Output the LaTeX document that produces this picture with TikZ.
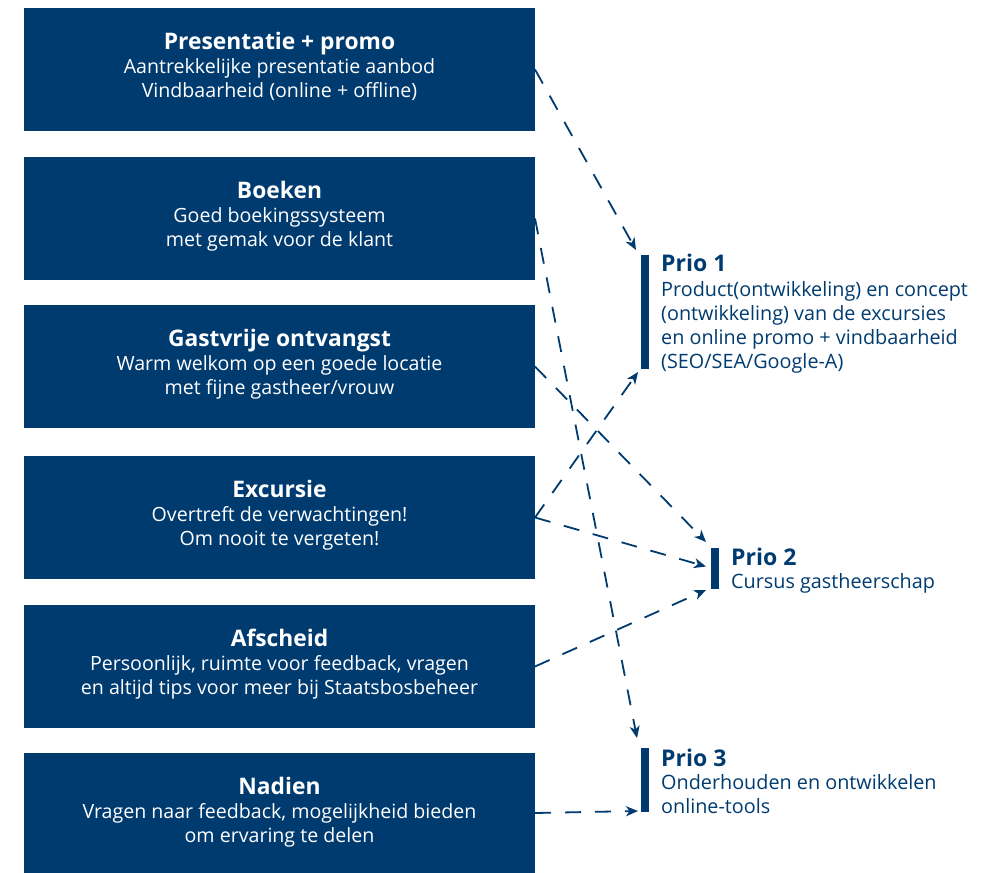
\documentclass[tikz,border=0pt]{standalone}
\usepackage{fontspec}
\setmainfont{Open Sans}
\usetikzlibrary{arrows.meta,calc}
\definecolor{navy}{RGB}{0,59,112}
\newcommand\Tstr{\rule{0pt}{17pt}}
\begin{document}
\begin{tikzpicture}[x=1pt,y=-1pt,
  box/.style={fill=navy,minimum width=511pt,minimum height=123pt,anchor=north west,inner sep=0pt,outer sep=0pt},
  btitle/.style={text=white,anchor=base,inner sep=0pt,font=\bfseries\fontsize{22.8}{24}\selectfont},
  bbody/.style={text=white,anchor=north,align=center,inner sep=0pt,font=\fontsize{19.6}{24}\selectfont},
  bar/.style={fill=navy,inner sep=0pt,outer sep=0pt,anchor=north west,minimum width=8pt},
  ptitle/.style={text=navy,anchor=base west,inner sep=0pt,font=\bfseries\fontsize{23}{24}\selectfont},
  pbody/.style={text=navy,anchor=north west,align=left,inner sep=0pt,font=\fontsize{19.8}{24}\selectfont},
  arr/.style={draw=navy,line width=1.8pt,dash pattern=on 16pt off 14pt,-{Stealth[length=12pt,width=10pt,inset=3.5pt]}}
]
\useasboundingbox (0,0) rectangle (1002,873);
% boxes
\node[box] (b1) at (24,8) {};
\node[box] (b2) at (24,157) {};
\node[box] (b3) at (24,305) {};
\node[box] (b4) at (24,456) {};
\node[box] (b5) at (24,605) {};
\node[box,minimum height=120pt] (b6) at (24,753) {};
% box texts
\node[btitle] (t1) at ($(b1.north)+(0,41.3)$) {Presentatie + promo};
\node[bbody] (s1) at ($(b1.north)+(0,48.3)$) {\Tstr Aantrekkelijke presentatie aanbod\\Vindbaarheid (online + offline)};
\node[btitle] (t2) at ($(b2.north)+(0,41.3)$) {Boeken};
\node[bbody] (s2) at ($(b2.north)+(0,48.3)$) {\Tstr Goed boekingssysteem\\met gemak voor de klant};
\node[btitle] (t3) at ($(b3.north)+(0,41.3)$) {Gastvrije ontvangst};
\node[bbody] (s3) at ($(b3.north)+(0,48.3)$) {\Tstr Warm welkom op een goede locatie\\met fijne gastheer/vrouw};
\node[btitle] (t4) at ($(b4.north)+(0,41.3)$) {Excursie};
\node[bbody] (s4) at ($(b4.north)+(0,48.3)$) {\Tstr Overtreft de verwachtingen!\\Om nooit te vergeten!};
\node[btitle] (t5) at ($(b5.north)+(0,41.3)$) {Afscheid};
\node[bbody] (s5) at ($(b5.north)+(0,48.3)$) {\Tstr Persoonlijk, ruimte voor feedback, vragen\\en altijd tips voor meer bij Staatsbosbeheer};
\node[btitle] (t6) at ($(b6.north)+(0,41.3)$) {Nadien};
\node[bbody] (s6) at ($(b6.north)+(0,48.3)$) {\Tstr Vragen naar feedback, mogelijkheid bieden\\om ervaring te delen};
% prio bars
\node[bar,minimum height=114pt] (p1) at (641,255) {};
\node[bar,minimum height=41pt] (p2) at (711,548) {};
\node[bar,minimum height=64pt] (p3) at (641,748) {};
% prio texts
\node[ptitle] (pt1) at (661,271.7) {Prio 1};
\node[pbody] (pb1) at (661,279) {\Tstr Product(ontwikkeling) en concept\\(ontwikkeling) van de excursies\\en online promo + vindbaarheid\\(SEO/SEA/Google-A)};
\node[ptitle] (pt2) at (731,565) {Prio 2};
\node[pbody] (pb2) at (731,571) {\Tstr Cursus gastheerschap};
\node[ptitle] (pt3) at (661,766) {Prio 3};
\node[pbody] (pb3) at (661,772) {\Tstr Onderhouden en ontwikkelen\\online-tools};
% connectors
\draw[arr] (b1.east) -- ($(p1.north west)+(-5,-5)$);
\draw[arr] (b2.east) -- ($(p3.north west)+(-4,-10)$);
\draw[arr] (b3.east) -- ($(p2.north west)+(-5,-6)$);
\draw[arr] (b4.east) -- ($(p1.south west)+(-3,3)$);
\draw[arr] (b4.east) -- ($(p2.west)+(-5,-2)$);
\draw[arr] (b5.east) -- ($(p2.south west)+(-5,1)$);
\draw[arr] (b6.east) -- ($(p3.south west)+(-3,-1)$);
\end{tikzpicture}
\end{document}
